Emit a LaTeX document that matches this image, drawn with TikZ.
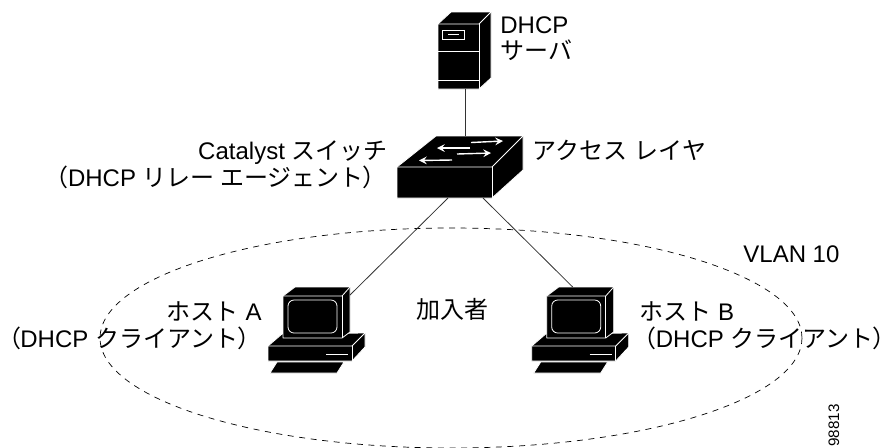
\documentclass[tikz,border=0pt]{standalone}
\usepackage{fontspec}
\setmainfont{Liberation Sans}
\newfontfamily\cjk{Noto Sans CJK JP}
\newfontfamily\cjkparen[RawFeature=+palt]{Noto Sans CJK JP}
\begin{document}
\begin{tikzpicture}[
        x=0.5pt, y=-0.5pt,
        label/.style={font=\fontsize{12pt}{14pt}\selectfont, inner sep=0pt},
        body/.style={fill=black, draw=white, line width=0.4pt, line join=round},
        edgeline/.style={draw=white, line width=0.4pt},
        flow/.style={-stealth, draw=white, line width=0.7pt},
        link/.style={draw=black!80, line width=0.4pt},
        pics/hostpc/.style={code={
            % keyboard
            \filldraw[body] (-6,66) -- (61,66) -- (54,77) -- (-13,77) -- cycle;
            % base
            \filldraw[body] (-15,50) -- (-1,38) -- (82,37) -- (82,51) -- (69,65) -- (-15,65) -- cycle;
            \draw[edgeline] (-15,50) -- (69,50) -- (82,37);
            \draw[edgeline] (69,50) -- (69,65);
            \draw[edgeline] (43,58) -- (65,58);
            % monitor
            \filldraw[body] (0,0) -- (12,-9) -- (67,-9) -- (67,36) -- (59,42) -- (0,42) -- cycle;
            \draw[edgeline] (0,0) -- (59,0) -- (67,-9);
            \draw[edgeline] (59,0) -- (59,42);
            \draw[edgeline, rounded corners=3pt] (5,4) rectangle (54,37);
            \coordinate (-corner) at (67,-1);
            \coordinate (-top) at (26,-9);
        }}
    ]
    \useasboundingbox (0,0) rectangle (889,447);

    % VLAN boundary
    \draw[black, line width=0.35pt, dash pattern=on 3pt off 2.8pt] (451,338) ellipse [x radius=351, y radius=110];

    % server
    \filldraw[body] (438,24) -- (451,12) -- (491,12) -- (491,78) -- (479,89) -- (438,89) -- cycle;
    \draw[edgeline] (438,24) -- (479,24) -- (491,12);
    \draw[edgeline] (479,24) -- (479,89);
    \draw[edgeline] (438,51) -- (479,51);
    \draw[edgeline] (438,80) -- (479,80);
    \draw[edgeline] (442,30) rectangle (464,39);
    \draw[edgeline] (448,34.5) -- (459,34.5);
    \coordinate (server) at (465,89);

    % switch
    \filldraw[body] (397,167) -- (436,136) -- (523,136) -- (523,170) -- (492,198) -- (397,198) -- cycle;
    \draw[edgeline] (397,167) -- (492,167) -- (523,136);
    \draw[edgeline] (492,167) -- (492,198);
    \draw[flow] (471,142.5) -- (503,141);
    \draw[flow] (470,148) -- (437,148);
    \draw[flow] (457,154) -- (491,153);
    \draw[flow] (452,160) -- (419,160.5);
    \coordinate (switchtop) at (465,136);
    \coordinate (switchleft) at (448,198);
    \coordinate (switchright) at (483,198);

    % hosts
    \pic (hosta) at (283,296) {hostpc};
    \pic (hostb) at (546.7,296) {hostpc};

    % links
    \draw[link] (server) -- (switchtop);
    \draw[link] (switchleft) -- (hosta-corner);
    \draw[link] (switchright) -- (hostb-top);

    % labels
    \node[label, anchor=base west] (dhcp) at (500,33) {DHCP};
    \node[label, anchor=base west] (saba) at (500,59) {\cjk サーバ};
    \node[label, anchor=base west] (access) at (532,159) {\cjk アクセス\hspace{1.2pt} レイヤ};
    \node[label, anchor=base east] (catalyst) at (388,159) {Catalyst {\cjk スイッチ}};
    \node[label, anchor=base east] (relay) at (376,186) {{\cjkparen （}DHCP {\cjk リレー エージェント}{\cjkparen ）}};
    \node[label, anchor=base west] (vlan) at (743,262) {VLAN 10};
    \node[label, anchor=base east] (hostaname) at (262,320) {{\cjk ホスト} A};
    \node[label, anchor=base east] (hostarole) at (250.5,347) {{\cjkparen （}DHCP {\cjk クライアント}{\cjkparen ）}};
    \node[label, anchor=base] (subscriber) at (452,318) {\cjk 加入者};
    \node[label, anchor=base west] (hostbname) at (639,320) {{\cjk ホスト} B};
    \node[label, anchor=base east] (hostbrole) at (886,347) {{\cjkparen （}DHCP {\cjk クライアント}{\cjkparen ）}};
    \node[font=\fontsize{7.6pt}{9pt}\selectfont, inner sep=0pt, rotate=90, anchor=base west] (figid) at (839,447) {98813};
\end{tikzpicture}
\end{document}
